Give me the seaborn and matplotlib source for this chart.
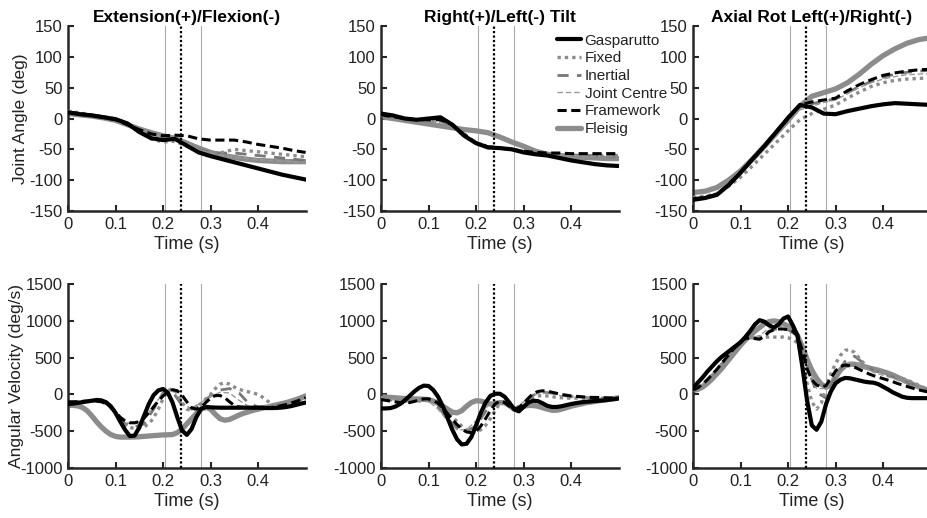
import numpy as np
import matplotlib
matplotlib.use("Agg")
import matplotlib.pyplot as plt
import seaborn as sns

# time grids
t_ang = np.linspace(0, 0.5, 21)     # joint angles, 0.025 s step
t_vel = np.linspace(0, 0.5, 51)     # velocities, 0.01 s step
t_vel2 = np.linspace(0, 0.5, 26)    # hidden methods, 0.02 s step

methods = ["Gasparutto", "Fixed", "Inertial", "Joint Centre", "Framework", "Fleisig"]
titles = ["Extension(+)/Flexion(-)", "Right(+)/Left(-) Tilt", "Axial Rot Left(+)/Right(-)"]
event_t = [0.205, 0.237, 0.28]

# ---- joint angles (deg) ----
gp_a1 = [10, 7, 5, 2, -1, -8, -22, -32, -35, -33, -44, -55, -61, -66, -71, -76, -81, -86, -91, -95, -99]
fx_a1 = [12, 9, 6, 3, -1, -8, -20, -33, -38, -37, -45, -52, -57, -55, -50, -52, -54, -56, -58, -60, -62]
in_a1 = [11, 8, 5, 2, -2, -9, -19, -30, -34, -33, -42, -50, -55, -56, -56, -58, -60, -62, -64, -66, -68]
jc_a1 = [11, 8, 5, 2, -2, -9, -18, -26, -30, -30, -40, -50, -56, -60, -63, -65, -67, -68, -69, -70, -71]
fw_a1 = [10, 8, 5, 2, -2, -10, -18, -25, -28, -27, -28, -33, -35, -35, -35, -38, -42, -45, -48, -52, -55]
fl_a1 = [8, 6, 4, 1, -3, -10, -17, -23, -28, -32, -40, -48, -55, -60, -63, -66, -68, -69, -70, -70, -70]

gp_a2 = [8, 5, 0, -2, 0, 2, -10, -28, -40, -47, -48, -50, -55, -58, -60, -64, -68, -71, -74, -76, -77]
fx_a2 = [5, 2, -1, -3, -4, -3, -10, -25, -40, -45, -48, -50, -53, -56, -58, -59, -60, -60, -60, -60, -60]
in_a2 = [5, 2, -1, -3, -4, -4, -11, -26, -39, -45, -48, -50, -53, -55, -57, -58, -59, -60, -60, -61, -61]
jc_a2 = [5, 2, -1, -3, -5, -6, -13, -27, -39, -45, -48, -51, -54, -56, -58, -59, -60, -61, -61, -61, -62]
fw_a2 = [6, 3, 0, -2, -2, -2, -10, -26, -40, -46, -48, -50, -53, -55, -56, -56, -57, -57, -57, -57, -57]
fl_a2 = [3, 0, -3, -6, -9, -12, -15, -18, -20, -23, -30, -38, -45, -53, -58, -60, -62, -63, -64, -65, -65]

gp_a3 = [-132, -129, -124, -108, -88, -66, -45, -22, 1, 22, 18, 8, 7, 12, 16, 20, 23, 25, 24, 23, 22]
fx_a3 = [-128, -126, -122, -110, -95, -77, -58, -39, -20, -2, 8, 15, 22, 33, 43, 52, 58, 62, 64, 65, 66]
in_a3 = [-131, -128, -123, -108, -88, -67, -46, -24, -1, 20, 24, 28, 32, 42, 52, 60, 67, 72, 75, 77, 78]
jc_a3 = [-129, -127, -122, -108, -90, -70, -50, -28, -6, 14, 20, 26, 30, 40, 50, 58, 64, 68, 71, 72, 73]
fw_a3 = [-130, -128, -123, -107, -87, -65, -44, -21, 2, 22, 27, 30, 33, 45, 55, 63, 70, 74, 77, 79, 80]
fl_a3 = [-120, -118, -112, -100, -85, -66, -45, -24, -3, 20, 36, 42, 48, 58, 72, 88, 102, 113, 122, 128, 131]

# ---- angular velocities (deg/s) ----
gp_v1 = [-130, -125, -115, -105, -95, -85, -75, -80, -105, -160, -250, -370, -480, -565, -560, -450, -290,
         -130, -10, 55, 75, 25, -110, -310, -490, -550, -470, -310, -195, -170, -175, -178, -180, -180, -180,
         -180, -180, -180, -180, -180, -180, -182, -185, -185, -183, -178, -170, -158, -142, -125, -110]
fx_v1 = [-110, -105, -100, -95, -90, -85, -85, -95, -125, -180, -260, -350, -420, -450, -460, -455, -440,
         -400, -320, -200, -60, 50, 80, 20, -110, -200, -220, -180, -120, -60, 0, 80, 140, 160, 140, 100, 70,
         50, 35, 20, 0, -40, -90, -130, -150, -155, -145, -125, -95, -60, -30]
fw_v1 = [-100, -100, -98, -95, -92, -90, -90, -100, -125, -170, -240, -310, -360, -385, -385, -370, -320,
         -250, -170, -90, -20, 30, 65, 50, -10, -100, -180, -200, -170, -110, -50, -15, -15, -45, -100, -150,
         -170, -175, -178, -180, -180, -180, -180, -175, -165, -150, -135, -115, -95, -70, -45]
fl_v1 = [-145, -148, -155, -175, -220, -290, -370, -440, -500, -545, -570, -580, -580, -580, -578, -575,
         -570, -565, -560, -555, -550, -548, -545, -520, -470, -400, -330, -260, -200, -175, -200, -270, -330,
         -350, -340, -310, -280, -255, -235, -215, -200, -185, -170, -155, -140, -125, -110, -90, -70, -45, -20]
in_v1 = [-105, -100, -92, -88, -115, -240, -400, -440, -400, -200, 20, 40, -150, -200, -120, -20, 60, 80,
         20, -120, -170, -160, -150, -140, -100, -40]
jc_v1 = [-100, -98, -93, -90, -120, -250, -380, -400, -340, -150, 10, 60, -120, -200, -110, -30, 30, 20,
         -80, -160, -175, -175, -165, -140, -100, -40]

gp_v2 = [-190, -190, -185, -165, -130, -80, -20, 40, 90, 120, 115, 60, -30, -160, -320, -480, -610, -680,
         -670, -580, -420, -250, -110, -20, 10, 10, -30, -110, -200, -230, -170, -110, -85, -90, -120, -155,
         -170, -170, -160, -145, -130, -118, -108, -100, -95, -90, -85, -80, -72, -65, -55]
fx_v2 = [-40, -45, -50, -55, -60, -65, -75, -85, -90, -85, -80, -90, -120, -170, -230, -300, -370, -430,
         -480, -510, -510, -480, -420, -330, -220, -120, -100, -150, -210, -200, -140, -80, -40, -20, -15,
         -20, -30, -40, -45, -50, -50, -50, -50, -50, -50, -50, -50, -50, -50, -50, -50]
fw_v2 = [-70, -80, -90, -100, -110, -115, -110, -95, -75, -60, -60, -80, -120, -180, -260, -340, -410, -470,
         -510, -520, -500, -430, -330, -220, -130, -90, -110, -160, -200, -180, -120, -50, 10, 40, 50, 45, 30,
         15, 0, -10, -20, -25, -30, -35, -40, -40, -42, -45, -47, -50, -50]
fl_v2 = [-30, -35, -40, -45, -50, -55, -58, -60, -62, -65, -70, -90, -120, -160, -200, -240, -250, -220,
         -160, -110, -85, -90, -110, -130, -130, -110, -110, -150, -200, -190, -160, -150, -150, -160, -180,
         -200, -215, -215, -200, -180, -160, -145, -130, -115, -105, -95, -85, -75, -65, -55, -45]
in_v2 = [-60, -75, -95, -90, -70, -85, -170, -330, -460, -500, -430, -230, -100, -130, -200, -120, -10, 30,
         20, -10, -30, -40, -45, -48, -50, -52]
jc_v2 = [-50, -65, -85, -95, -75, -90, -200, -360, -480, -480, -360, -180, -100, -150, -190, -100, 0, 20,
         10, -20, -35, -45, -50, -52, -52, -52]

gp_v3 = [90, 160, 230, 310, 380, 450, 510, 560, 610, 660, 710, 780, 860, 950, 1010, 990, 940, 910, 950,
         1030, 1060, 940, 800, 380, -80, -420, -480, -370, -130, 40, 150, 200, 225, 220, 205, 190, 175, 165,
         160, 140, 105, 70, 30, 0, -30, -45, -50, -50, -50, -50, -50]
fx_v3 = [50, 80, 130, 190, 260, 330, 410, 490, 570, 650, 720, 760, 780, 780, 780, 780, 780, 780, 780, 780,
         770, 750, 700, 500, 150, -100, -200, -120, 100, 280, 420, 530, 600, 610, 570, 490, 420, 370, 340,
         320, 300, 280, 260, 240, 220, 195, 170, 140, 110, 80, 50]
fw_v3 = [60, 90, 140, 200, 270, 340, 420, 500, 580, 650, 720, 760, 770, 760, 750, 790, 850, 880, 890, 890,
         880, 860, 800, 600, 350, 200, 130, 100, 120, 220, 320, 380, 400, 390, 370, 340, 310, 280, 255, 235,
         215, 195, 175, 150, 130, 110, 90, 70, 55, 40, 30]
fl_v3 = [50, 70, 100, 150, 210, 280, 350, 430, 510, 590, 670, 740, 800, 860, 910, 960, 990, 1000, 990, 960,
         930, 880, 800, 650, 480, 330, 220, 140, 100, 120, 230, 330, 390, 410, 410, 400, 380, 360, 345, 330,
         310, 290, 265, 235, 205, 175, 145, 115, 90, 65, 40]
in_v3 = [55, 130, 260, 410, 570, 710, 770, 760, 860, 900, 880, 800, 380, 30, -50, 250, 450, 520, 420, 330,
         280, 240, 190, 140, 90, 50]
jc_v3 = [60, 140, 270, 420, 580, 720, 770, 800, 900, 930, 900, 820, 420, 80, 80, 300, 430, 440, 370, 300,
         260, 220, 170, 120, 80, 40]

angles = [
    [(t_ang, gp_a1), (t_ang, fx_a1), (t_ang, in_a1), (t_ang, jc_a1), (t_ang, fw_a1), (t_ang, fl_a1)],
    [(t_ang, gp_a2), (t_ang, fx_a2), (t_ang, in_a2), (t_ang, jc_a2), (t_ang, fw_a2), (t_ang, fl_a2)],
    [(t_ang, gp_a3), (t_ang, fx_a3), (t_ang, in_a3), (t_ang, jc_a3), (t_ang, fw_a3), (t_ang, fl_a3)],
]
vels = [
    [(t_vel, gp_v1), (t_vel, fx_v1), (t_vel2, in_v1), (t_vel2, jc_v1), (t_vel, fw_v1), (t_vel, fl_v1)],
    [(t_vel, gp_v2), (t_vel, fx_v2), (t_vel2, in_v2), (t_vel2, jc_v2), (t_vel, fw_v2), (t_vel, fl_v2)],
    [(t_vel, gp_v3), (t_vel, fx_v3), (t_vel2, in_v3), (t_vel2, jc_v3), (t_vel, fw_v3), (t_vel, fl_v3)],
]

# line look per method: color, linestyle, width, zorder
styles = {
    "Gasparutto":   dict(color="black", ls="-", lw=3.0, z=6),
    "Fixed":        dict(color="#8c8c8c", ls=(0, (1, 1.2)), lw=2.4, z=4),
    "Inertial":     dict(color="#777777", ls=(0, (4, 3)), lw=2.0, z=2),
    "Joint Centre": dict(color="#9a9a9a", ls=(0, (4, 2)), lw=1.0, z=3),
    "Framework":    dict(color="black", ls=(0, (3, 1.5)), lw=2.2, z=5),
    "Fleisig":      dict(color="#8c8c8c", ls="-", lw=3.8, z=1),
}

sns.set_style("ticks")
plt.rcParams["font.family"] = ["Liberation Sans", "DejaVu Sans"]
plt.rcParams["axes.unicode_minus"] = False
txt = "#222222"

fig = plt.figure(figsize=(9.28, 5.18), dpi=100)
lefts = [0.0733, 0.4106, 0.7468]
w = 0.256
rows = [(0.5927, 0.357, angles, (-150, 150), [-150, -100, -50, 0, 50, 100, 150], "Joint Angle (deg)", 1),
        (0.0965, 0.355, vels, (-1000, 1500), [-1000, -500, 0, 500, 1000, 1500], "Angular Velocity (deg/s)", -3)]

legend_ax = None
for r, (bottom, h, data, ylim, yticks, ylab, ypad) in enumerate(rows):
    for c in range(3):
        ax = fig.add_axes([lefts[c], bottom, w, h])
        for m, (tt, yy) in zip(methods, data[c]):
            st = styles[m]
            sns.lineplot(x=tt, y=yy, ax=ax, color=st["color"], linestyle=st["ls"], lw=st["lw"],
                         zorder=st["z"], label=m, legend=False)
        ax.axvline(event_t[0], color="#aaaaaa", lw=0.8, zorder=0)
        ax.axvline(event_t[2], color="#aaaaaa", lw=0.8, zorder=0)
        ax.axvline(event_t[1], color="black", lw=1.6, ls=(0, (1, 1)), zorder=7)
        ax.set_xlim(0, 0.5)
        ax.set_ylim(*ylim)
        ax.set_xticks([0, 0.1, 0.2, 0.3, 0.4])
        ax.set_xticklabels(["0", "0.1", "0.2", "0.3", "0.4"])
        ax.set_yticks(yticks)
        ax.set_xlabel("Time (s)", fontsize=13, labelpad=3, color=txt)
        ax.set_ylabel(ylab if c == 0 else "", fontsize=12.5, labelpad=ypad, color=txt)
        if r == 0:
            ax.set_title(titles[c], fontsize=12.5, fontweight="bold", pad=3, color="black")
        ax.tick_params(direction="in", length=4, width=1.5, labelsize=12, pad=4, labelcolor=txt)
        for s in ["top", "right"]:
            ax.spines[s].set_visible(False)
        for s in ["left", "bottom"]:
            ax.spines[s].set_linewidth(1.8)
        if r == 0 and c == 1:
            legend_ax = ax

handles, labels = legend_ax.get_legend_handles_labels()
leg = legend_ax.legend(handles, labels, loc="upper left", bbox_to_anchor=(0.592, 0.950),
                       bbox_transform=fig.transFigure, frameon=False, fontsize=11,
                       handlelength=1.6, handletextpad=0.2, labelspacing=0.24, borderpad=0)
for t in leg.get_texts():
    t.set_color(txt)

fig.savefig("out.png", dpi=100)
